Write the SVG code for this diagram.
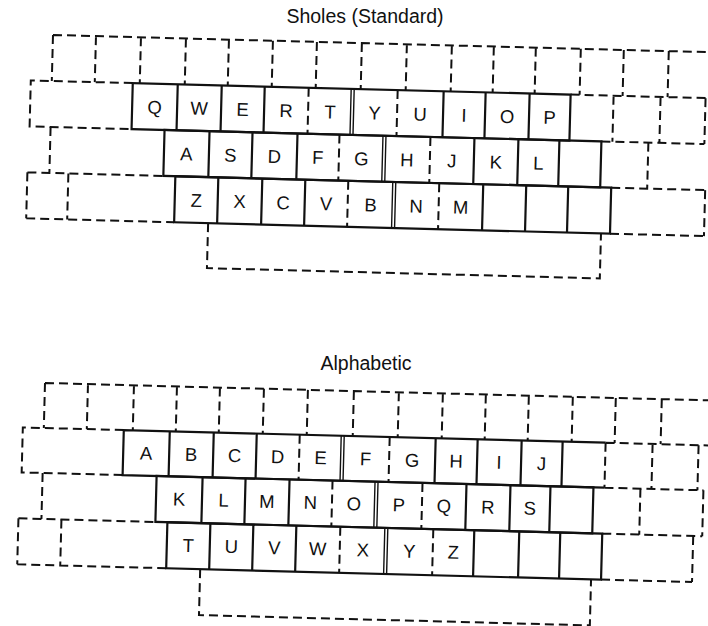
<svg xmlns="http://www.w3.org/2000/svg" width="708" height="626" viewBox="0 0 708 626">
<style>
.dash{fill:none;stroke:#111;stroke-width:2;stroke-dasharray:9 5}
.solid{fill:none;stroke:#111;stroke-width:2.2}
.dbl{fill:none;stroke:#111;stroke-width:1.4}
.key{font-family:"Liberation Sans",Arial,sans-serif;font-size:18.5px;fill:#111;text-anchor:middle}
.title{font-family:"Liberation Sans",Arial,sans-serif;font-size:19.5px;fill:#111;text-anchor:middle}
</style>
<rect width="708" height="626" fill="#fff"/>

<g id="sholes">
<text class="title" x="365" y="23">Sholes (Standard)</text>
<g id="sholes-keys" transform="rotate(1.5 53 35)">
<g id="sholes-dashed">
<path class="dash" d="M53,35 H720 M53,35 V81 M96,35 V81 M141,35 V81 M186,35 V81 M229,35 V81 M273,35 V81 M317,35 V81 M362,35 V81 M407,35 V81 M452,35 V81 M494,35 V81 M536,35 V81 M581,35 V81 M624,35 V81 M669,35 V81"/>
<path class="dash" d="M134,81 H32 V127 H134 M572,81 H720 M615,81 V127 M662,81 V127 M707,81 V127 M604,127 H707"/>
<path class="dash" d="M53,127 V173 M31,173 H167 M651,127 V173 M615,173 H709"/>
<path class="dash" d="M31,173 V219 M72,173 V219 M31,219 H179 M709,173 V219 M615,219 H709"/>
<path class="dash" d="M213,219 V264 H606 V219"/>
</g>
<g id="sholes-solid">
<rect class="solid" x="134" y="81" width="438" height="46"/>
<rect class="solid" x="167" y="127" width="437" height="46"/>
<rect class="solid" x="179" y="173" width="436" height="46"/>
<path class="solid" d="M179,81 V127 M223,81 V127 M266,81 V127 M445,81 V127 M487,81 V127 M531,81 V127"/>
<path class="dash" d="M310,81 V127 M399,81 V127"/>
<path class="dbl" d="M352.5,81 V127 M355.5,81 V127"/>
<path class="solid" d="M212,127 V173 M255,127 V173 M300,127 V173 M477,127 V173 M521,127 V173 M562,127 V173"/>
<path class="dash" d="M342,127 V173 M433,127 V173"/>
<path class="dbl" d="M385.5,127 V173 M388.5,127 V173"/>
<path class="solid" d="M222,173 V219 M266,173 V219 M309,173 V219 M487,173 V219 M530,173 V219 M572,173 V219"/>
<path class="dash" d="M352,173 V219 M443,173 V219"/>
<path class="dbl" d="M396.5,173 V219 M399.5,173 V219"/>
</g>
<g id="sholes-labels">
<text class="key" x="156.5" y="111">Q</text>
<text class="key" x="201" y="111">W</text>
<text class="key" x="244.5" y="111">E</text>
<text class="key" x="288" y="111">R</text>
<text class="key" x="332" y="111">T</text>
<text class="key" x="376.5" y="111">Y</text>
<text class="key" x="422" y="111">U</text>
<text class="key" x="466" y="111">I</text>
<text class="key" x="509" y="111">O</text>
<text class="key" x="551.5" y="111">P</text>
<text class="key" x="189.5" y="157">A</text>
<text class="key" x="233.5" y="157">S</text>
<text class="key" x="277.5" y="157">D</text>
<text class="key" x="321" y="157">F</text>
<text class="key" x="364.5" y="157">G</text>
<text class="key" x="410" y="157">H</text>
<text class="key" x="455" y="157">J</text>
<text class="key" x="499" y="157">K</text>
<text class="key" x="541.5" y="157">L</text>
<text class="key" x="200.5" y="203">Z</text>
<text class="key" x="244" y="203">X</text>
<text class="key" x="287.5" y="203">C</text>
<text class="key" x="330.5" y="203">V</text>
<text class="key" x="375" y="203">B</text>
<text class="key" x="420.5" y="203">N</text>
<text class="key" x="465" y="203">M</text>
</g>
</g>
</g>

<g id="alphabetic">
<text class="title" x="366" y="370">Alphabetic</text>
<g id="alphabetic-keys" transform="rotate(1.5 45 383)">
<g id="alphabetic-dashed">
<path class="dash" d="M45,383 H720 M45,383 V428 M88,383 V428 M134,383 V428 M177,383 V428 M220,383 V428 M264,383 V428 M308,383 V428 M354,383 V428 M399,383 V428 M443,383 V428 M486,383 V428 M529,383 V428 M573,383 V428 M616,383 V428 M662,383 V428"/>
<path class="dash" d="M125,428 H24 V473 H125 M607,428 H720 M607,428 V473 M654,428 V473 M700,428 V473 M607,473 H706"/>
<path class="dash" d="M45,473 V519 M22,519 H159 M643,473 V519 M706,473 V519 M606,519 H706"/>
<path class="dash" d="M22,519 V565 M65,519 V565 M22,565 H171 M697,519 V565 M606,565 H697"/>
<path class="dash" d="M205,565 V611 H596 V565"/>
</g>
<g id="alphabetic-solid">
<path class="solid" d="M607,428 H125 V473 H607"/>
<rect class="solid" x="159" y="473" width="437" height="46"/>
<rect class="solid" x="171" y="519" width="435" height="46"/>
<path class="solid" d="M171,428 V473 M215,428 V473 M258,428 V473 M437,428 V473 M479,428 V473 M523,428 V473 M564,428 V473"/>
<path class="dash" d="M301,428 V473 M391,428 V473"/>
<path class="dbl" d="M342.5,428 V473 M345.5,428 V473"/>
<path class="solid" d="M205,473 V519 M248,473 V519 M292,473 V519 M469,473 V519 M513,473 V519 M553,473 V519"/>
<path class="dash" d="M335,473 V519 M425,473 V519"/>
<path class="dbl" d="M377.5,473 V519 M380.5,473 V519"/>
<path class="solid" d="M214,519 V565 M257,519 V565 M300,519 V565 M478,519 V565 M523,519 V565 M564,519 V565"/>
<path class="dash" d="M344,519 V565 M437,519 V565"/>
<path class="dbl" d="M388.5,519 V565 M391.5,519 V565"/>
</g>
<g id="alphabetic-labels">
<text class="key" x="148" y="457">A</text>
<text class="key" x="193" y="457">B</text>
<text class="key" x="236.5" y="457">C</text>
<text class="key" x="279.5" y="457">D</text>
<text class="key" x="322.5" y="457">E</text>
<text class="key" x="367.5" y="457">F</text>
<text class="key" x="414" y="457">G</text>
<text class="key" x="458" y="457">H</text>
<text class="key" x="501" y="457">I</text>
<text class="key" x="543.5" y="457">J</text>
<text class="key" x="182" y="502">K</text>
<text class="key" x="226.5" y="502">L</text>
<text class="key" x="270" y="502">M</text>
<text class="key" x="313.5" y="502">N</text>
<text class="key" x="357" y="502">O</text>
<text class="key" x="402" y="502">P</text>
<text class="key" x="447" y="502">Q</text>
<text class="key" x="491" y="502">R</text>
<text class="key" x="533" y="502">S</text>
<text class="key" x="192.5" y="548">T</text>
<text class="key" x="235.5" y="548">U</text>
<text class="key" x="278.5" y="548">V</text>
<text class="key" x="322" y="548">W</text>
<text class="key" x="367" y="548">X</text>
<text class="key" x="413.5" y="548">Y</text>
<text class="key" x="457.5" y="548">Z</text>
</g>
</g>
</g>
</svg>
